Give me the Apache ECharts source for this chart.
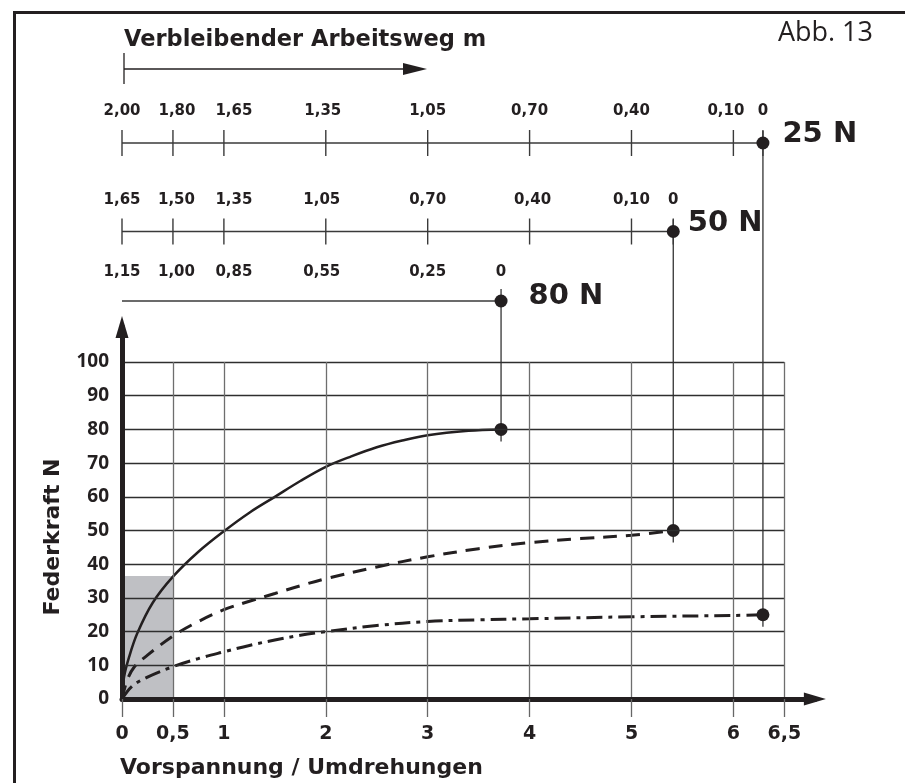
<!DOCTYPE html>
<html><head><meta charset="utf-8">
<script src="https://cdn.jsdelivr.net/npm/echarts@6/dist/echarts.min.js"></script>
<style>html,body{margin:0;padding:0;background:#fff}#c{width:905px;height:783px}</style>
</head><body><div id="c"></div>
<script>
// ---------------- data ----------------
const xTickValues = [0, 0.5, 1, 2, 3, 4, 5, 6, 6.5];
const xTickLabels = ['0', '0,5', '1', '2', '3', '4', '5', '6', '6,5'];
const yTickValues = [0, 10, 20, 30, 40, 50, 60, 70, 80, 90, 100];
const gridXValues = [0.5, 1, 2, 3, 4, 5, 6, 6.5];
const gridYValues = [10, 20, 30, 40, 50, 60, 70, 80, 90, 100];
const shadedBox = [[0, 0], [0.5, 36.5]];

// Federkraft curves (x = Umdrehungen, y = N)
const curve80 = [[0,0],[0.02,6.5],[0.07,12.5],[0.15,19.5],[0.3,28.5],[0.5,36.3],[0.75,43.7],[1,49.8],[1.25,55.3],[1.5,60],[1.75,64.7],[2,68.9],[2.25,72],[2.5,74.7],[2.75,76.7],[3,78.3],[3.4,79.6],[3.72,80]];
const curve50 = [[0,0],[0.05,5.5],[0.12,9.5],[0.25,13],[0.5,18.7],[0.75,23],[1,26.5],[1.25,29],[1.5,31.3],[1.75,33.6],[2,35.7],[2.5,39.2],[3,42.2],[3.5,44.6],[4,46.4],[4.5,47.6],[5,48.6],[5.41,50]];
const curve25 = [[0,0],[0.1,3.8],[0.25,6.5],[0.5,9.6],[0.75,12],[1,14],[1.25,15.9],[1.5,17.5],[1.75,18.9],[2,20],[2.5,21.8],[3,23],[3.5,23.5],[4,23.8],[5,24.4],[6,24.8],[6.29,25]];

// Verbleibender Arbeitsweg scales (tick positions on the Umdrehungen axis, labels in m)
const row25Ticks = [0, 0.5, 1, 2, 3, 4, 5, 6];
const row25Labels = ['2,00', '1,80', '1,65', '1,35', '1,05', '0,70', '0,40', '0,10', '0'];
const row50Ticks = [0, 0.5, 1, 2, 3, 4, 5];
const row50Labels = ['1,65', '1,50', '1,35', '1,05', '0,70', '0,40', '0,10', '0'];
const row80Ticks = [0, 0.5, 1, 2, 3];
const row80Labels = ['1,15', '1,00', '0,85', '0,55', '0,25', '0'];
const rowNames = ['25 N', '50 N', '80 N'];

// ---------------- layout ----------------
const INK = '#231f20';
const L = { left: 122, width: 692.9, xMax: 6.8, yMax: 110.4, top: 327, height: 372 };
const rowLayout = [
  { top: 130, tickVisible: true, dist: 11, nameDist: 13, nameDy: -9, shift: {0.5: 4, 1: 10, 2: -3, 6: -7.5} },
  { top: 218.5, tickVisible: true, dist: 11, nameDist: 8, nameDy: -8.5, shift: {0.5: 3.5, 1: 10, 2: -4, 4: 3} },
  { top: 288, tickVisible: false, dist: 8, nameDist: 21, nameDy: -5, shift: {0.5: 3.5, 1: 10, 2: -4} }
];
const rows = [
  { ticks: row25Ticks, labels: row25Labels, curve: curve25 },
  { ticks: row50Ticks, labels: row50Labels, curve: curve50 },
  { ticks: row80Ticks, labels: row80Labels, curve: curve80 }
];

const chart = echarts.init(document.getElementById('c'), null, { renderer: 'canvas' });

const grids = [{ left: L.left, top: L.top, width: L.width, height: L.height, outerBoundsMode: 'none', containLabel: false }];
const xAxes = [{
  type: 'value', min: 0, max: L.xMax, gridIndex: 0, z: 5,
  axisLine: { show: true, lineStyle: { color: INK, width: 5 }, symbol: ['none', 'triangle'], symbolSize: [13, 22] },
  axisTick: { show: true, customValues: xTickValues, length: 18, lineStyle: { color: '#666', width: 1.3 } },
  axisLabel: { customValues: xTickValues, margin: 26, color: INK, fontFamily: 'DejaVu Sans', fontWeight: 'bold', fontSize: 19,
    formatter: v => { const i = xTickValues.indexOf(v); return i >= 0 ? xTickLabels[i] : ''; } },
  splitLine: { show: false }
}];
const yAxes = [{
  type: 'value', min: 0, max: L.yMax, gridIndex: 0, z: 5,
  axisLine: { show: true, lineStyle: { color: INK, width: 5 }, symbol: ['none', 'triangle'], symbolSize: [13, 22] },
  axisTick: { show: false },
  axisLabel: { customValues: yTickValues, margin: 13, color: INK, fontFamily: 'Open Sans', fontWeight: 'bold', fontSize: 19 },
  splitLine: { show: false }
}];

const series = [];
// shaded area
series.push({ type: 'line', xAxisIndex: 0, yAxisIndex: 0, data: [], silent: true, z: 1,
  markArea: { silent: true, itemStyle: { color: '#bfc0c4' }, label: { show: false },
    data: [[{ coord: shadedBox[0] }, { coord: shadedBox[1] }]] } });
// grid lines
const gl = [];
gridYValues.forEach(y => gl.push([{ coord: [0, y], lineStyle: { color: '#2e2e2e', width: 1.3, type: 'solid' } }, { coord: [6.5, y] }]));
gridXValues.forEach(x => gl.push([{ coord: [x, 0], lineStyle: { color: '#6e6e6e', width: 1.3, type: 'solid' } }, { coord: [x, 100] }]));
series.push({ type: 'line', xAxisIndex: 0, yAxisIndex: 0, data: [], silent: true, z: 2,
  markLine: { silent: true, symbol: ['none', 'none'], label: { show: false }, animation: false, data: gl } });
// curves
const curveStyle = [
  { data: curve80, type: 'solid', width: 2.5 },
  { data: curve50, type: [14, 9], width: 3 },
  { data: curve25, type: [16, 6, 4, 6], width: 3 }
];
curveStyle.forEach(c => series.push({ type: 'line', xAxisIndex: 0, yAxisIndex: 0, data: c.data, smooth: 0.35,
  showSymbol: false, silent: true, z: 3, lineStyle: { color: INK, width: c.width, type: c.type } }));
// end dots on curves
series.push({ type: 'scatter', xAxisIndex: 0, yAxisIndex: 0, z: 4, silent: true, symbolSize: 13, itemStyle: { color: INK, opacity: 1 },
  data: [curve80, curve50, curve25].map(c => c[c.length - 1]) });

// scale rows
rows.forEach((row, r) => {
  const lay = rowLayout[r];
  const gi = r + 1;
  grids.push({ left: L.left, top: lay.top, width: L.width, height: 26, outerBoundsMode: 'none', containLabel: false });
  xAxes.push({ type: 'value', gridIndex: gi, min: 0, max: L.xMax, show: false });
  yAxes.push({ type: 'value', gridIndex: gi, min: 0, max: 1, show: false });
  const end = row.curve[row.curve.length - 1][0];
  series.push({ type: 'line', xAxisIndex: gi, yAxisIndex: gi, data: [[0, 0.5], [end, 0.5]], showSymbol: false, silent: true,
    lineStyle: { color: '#3a3a3a', width: 1.3 }, z: 2 });
  const tickXs = row.ticks.concat([end]);
  series.push({ type: 'scatter', xAxisIndex: gi, yAxisIndex: gi, silent: true, z: 2, symbol: 'rect', symbolSize: [1.4, 26],
    itemStyle: { color: lay.tickVisible ? '#3a3a3a' : 'rgba(0,0,0,0)', opacity: 1 },
    label: { show: true, position: 'top', distance: lay.dist, color: INK, fontFamily: 'DejaVu Sans', fontWeight: 'bold', fontSize: 15 },
    data: tickXs.map((x, i) => ({ value: [x, 0.5], label: { formatter: row.labels[i], offset: [lay.shift[x] || 0, 0] } })) });
  series.push({ type: 'scatter', xAxisIndex: gi, yAxisIndex: gi, silent: true, z: 4, symbolSize: 13, itemStyle: { color: INK, opacity: 1 },
    label: { show: true, position: 'right', distance: lay.nameDist, offset: [0, lay.nameDy], formatter: rowNames[r],
      color: INK, fontFamily: 'DejaVu Sans', fontWeight: 'bold', fontSize: 29 },
    data: [[end, 0.5]] });
});

chart.setOption({ animation: false, backgroundColor: '#fff', grid: grids, xAxis: xAxes, yAxis: yAxes, series: series });

// connectors & decorations
const graphics = [
  { type: 'polyline', shape: { points: [[14.5, 790], [14.5, 12.5], [910, 12.5]] }, style: { stroke: INK, lineWidth: 3, fill: null } },
  { type: 'text', x: 124, y: 40, style: { text: 'Verbleibender Arbeitsweg m', font: 'bold 22.5px "DejaVu Sans"', fill: INK, verticalAlign: 'middle', align: 'left' } },
  { type: 'line', shape: { x1: 124, y1: 53, x2: 124, y2: 84 }, style: { stroke: INK, lineWidth: 1.3 } },
  { type: 'line', shape: { x1: 124, y1: 69, x2: 406, y2: 69 }, style: { stroke: INK, lineWidth: 1.3 } },
  { type: 'polygon', shape: { points: [[403, 63], [427, 69], [403, 75]] }, style: { fill: INK } },
  { type: 'text', x: 873, y: 33, style: { text: 'Abb. 13', font: '27px "Open Sans"', fill: INK, verticalAlign: 'middle', align: 'right' } },
  { type: 'text', x: 120, y: 768, style: { text: 'Vorspannung / Umdrehungen', font: 'bold 22px "DejaVu Sans"', fill: INK, verticalAlign: 'middle', align: 'left' } },
  { type: 'text', x: 53, y: 537, rotation: Math.PI / 2, style: { text: 'Federkraft N', font: 'bold 22px "DejaVu Sans"', fill: INK, verticalAlign: 'middle', align: 'center' } }
];
rows.forEach((row, r) => {
  const last = row.curve[row.curve.length - 1];
  const a = chart.convertToPixel({ gridIndex: r + 1 }, [last[0], 0.5]);
  const b = chart.convertToPixel({ gridIndex: 0 }, last);
  graphics.push({ type: 'line', z: 1, shape: { x1: a[0], y1: a[1] - 12, x2: b[0], y2: b[1] + 12 }, style: { stroke: '#333', lineWidth: 1.3 } });
});
chart.setOption({ graphic: graphics });
</script>
</body></html>
